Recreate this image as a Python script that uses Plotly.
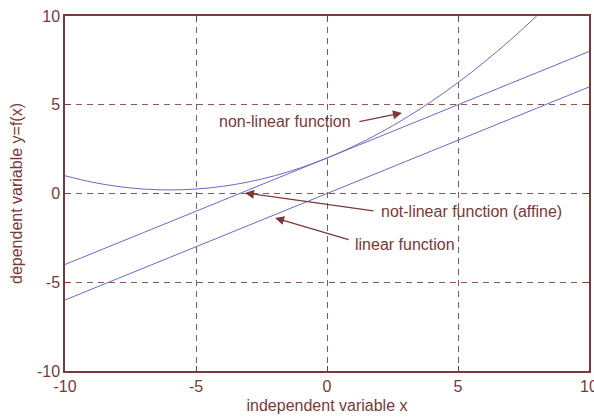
import plotly.graph_objects as go

# Data
x_vals = [-10, -9, -8, -7, -6, -5, -4, -3, -2, -1, 0, 1, 2, 3, 4, 5, 6, 7, 8, 9, 10]
linear_y = [-6.0, -5.4, -4.8, -4.2, -3.6, -3.0, -2.4, -1.8, -1.2, -0.6, 0.0,
            0.6, 1.2, 1.8, 2.4, 3.0, 3.6, 4.2, 4.8, 5.4, 6.0]
affine_y = [-4.0, -3.4, -2.8, -2.2, -1.6, -1.0, -0.4, 0.2, 0.8, 1.4, 2.0,
            2.6, 3.2, 3.8, 4.4, 5.0, 5.6, 6.2, 6.8, 7.4, 8.0]
nonlinear_y = [1.0, 0.65, 0.4, 0.25, 0.2, 0.25, 0.4, 0.65, 1.0, 1.45, 2.0,
               2.65, 3.4, 4.25, 5.2, 6.25, 7.4, 8.65, 10.0, 11.45, 13.0]

tick_vals = [-10, -5, 0, 5, 10]
tick_text = ["-10", "-5", "0", "5", "10"]

labels = ["non-linear function", "not-linear function (affine)", "linear function"]

BROWN = "#7a3838"
LINE = "#6a6ac4"
GRID = "#8c5656"
FS = 16

fig = go.Figure()
for name, ys in [("linear", linear_y), ("affine", affine_y), ("non-linear", nonlinear_y)]:
    fig.add_trace(go.Scatter(x=x_vals, y=ys, mode="lines", name=name,
                             line=dict(color=LINE, width=1, shape="spline"),
                             showlegend=False, cliponaxis=True))

axis_common = dict(
    range=[-10, 10], tickvals=tick_vals, ticktext=tick_text,
    showline=True, linecolor=BROWN, linewidth=1.5, mirror="ticks",
    ticks="inside", ticklen=5, tickcolor=BROWN, tickwidth=1,
    showgrid=True, gridcolor=GRID, gridwidth=1, griddash="6px,5px",
    zeroline=False, tickfont=dict(color=BROWN, size=FS),
    automargin=False, ticklabeloverflow="allow",
)

fig.update_layout(
    width=594, height=417,
    margin=dict(l=65, r=5, t=16, b=46),
    paper_bgcolor="white", plot_bgcolor="white",
    font=dict(family="Liberation Sans, Arial, sans-serif", color=BROWN, size=FS),
    xaxis=dict(**axis_common, title=dict(text="independent variable x",
                                         font=dict(size=FS, color=BROWN), standoff=6)),
    yaxis=dict(**axis_common, title=dict(text="dependent variable y=f(x)",
                                         font=dict(size=FS, color=BROWN), standoff=10)),
)

# text labels
fig.add_annotation(x=1.0, y=4.03, text=labels[0], showarrow=False, xanchor="right",
                   font=dict(size=FS, color=BROWN))
fig.add_annotation(x=1.98, y=-0.99, text=labels[1], showarrow=False, xanchor="left",
                   font=dict(size=FS, color=BROWN))
fig.add_annotation(x=0.99, y=-2.9, text=labels[2], showarrow=False, xanchor="left",
                   font=dict(size=FS, color=BROWN))

# arrows (head at x,y; tail at ax,ay)
arrows = [((2.86, 4.54), (1.18, 4.03)),
          ((-3.13, 0.03), (1.83, -0.99)),
          ((-1.98, -1.38), (0.88, -2.62))]
for (hx, hy), (tx, ty) in arrows:
    fig.add_annotation(x=hx, y=hy, ax=tx, ay=ty, xref="x", yref="y", axref="x", ayref="y",
                       text="", showarrow=True, arrowhead=2, arrowsize=1.5,
                       arrowwidth=1.2, arrowcolor=BROWN)

fig.write_html("out.html", config={"displayModeBar": False},
               post_script="document.body.style.margin='0';document.body.style.overflow='hidden';")
